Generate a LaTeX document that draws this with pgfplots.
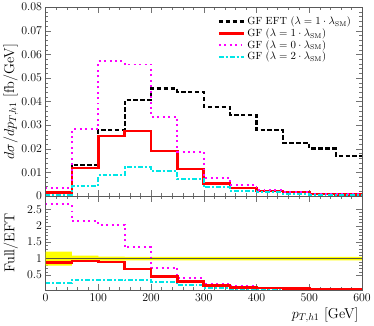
\documentclass[border=0pt]{standalone}
\usepackage{pgfplots}
\pgfplotsset{compat=1.18}
\usepgfplotslibrary{fillbetween}
\definecolor{mycyan}{RGB}{0,230,230}
\definecolor{mymag}{RGB}{255,0,255}
\definecolor{myyel}{RGB}{255,255,0}
\pgfplotsset{
  myax/.style={
    scale only axis, width=320pt,
    xmin=0, xmax=600,
    axis line style={black!65},
    tick style={black!55},
    major tick length=6pt, minor tick length=3pt,
    tick align=inside,
    xtick={0,100,...,600}, minor x tick num=4,
    tick label style={font=\fontsize{11.5}{13}\selectfont},
    label style={font=\fontsize{14.5}{16}\selectfont},
    legend image code/.code={\draw[mark repeat=2,mark phase=2] plot coordinates {(0cm,0cm) (0.45cm,0cm) (0.9cm,0cm)};},
  },
  blk/.style={black, line width=2.2pt, dash pattern=on 4.5pt off 2.5pt, const plot},
  rd/.style={red, line width=2.6pt, const plot},
  mg/.style={mymag, line width=2pt, dash pattern=on 2pt off 3.5pt, const plot},
  cy/.style={mycyan, line width=2pt, dash pattern=on 5pt off 2pt on 2pt off 2pt, const plot},
}
\begin{document}
\begin{tikzpicture}
\begin{axis}[myax, name=top, height=191pt,
  ymin=0, ymax=0.08,
  ytick={0,0.01,...,0.08}, minor y tick num=4,
  xticklabels={},
  yticklabel style={/pgf/number format/fixed, /pgf/number format/precision=2},
  scaled y ticks=false,
  ylabel={$d\sigma/dp_{T,h1}$ [fb/GeV]},
  ylabel style={at={(axis description cs:-0.11,0.5)}, anchor=center},
  legend style={draw=none, fill=none, at={(0.975,0.965)}, anchor=north east,
    font=\fontsize{10.5}{12}\selectfont, row sep=-1.5pt, inner sep=1pt},
  legend cell align=left,
]
\addplot[blk] coordinates {(0,0.0017)(50,0.0133)(100,0.028)(150,0.0407)(200,0.0455)(250,0.0441)(300,0.0378)(350,0.0343)(400,0.0279)(450,0.0225)(500,0.0201)(550,0.017)(600,0.017)};
\addlegendentry{GF EFT ($\lambda = 1\cdot\lambda_{\mathrm{SM}}$)}
\addplot[rd] coordinates {(0,0.0014)(50,0.0119)(100,0.0254)(150,0.0275)(200,0.0191)(250,0.0115)(300,0.0052)(350,0.0034)(400,0.0021)(450,0.0017)(500,0.0008)(550,0.0006)(600,0.0006)};
\addlegendentry{GF ($\lambda = 1\cdot\lambda_{\mathrm{SM}}$)}
\addplot[mg] coordinates {(0,0.0035)(50,0.0282)(100,0.057)(150,0.0557)(200,0.0335)(250,0.0188)(300,0.0077)(350,0.0045)(400,0.0024)(450,0.0018)(500,0.0008)(550,0.0007)(600,0.0007)};
\addlegendentry{GF ($\lambda = 0\cdot\lambda_{\mathrm{SM}}$)}
\addplot[cy] coordinates {(0,0.0006)(50,0.0042)(100,0.0087)(150,0.0121)(200,0.0104)(250,0.0073)(300,0.0038)(350,0.0021)(400,0.0015)(450,0.001)(500,0.0006)(550,0.0004)(600,0.0004)};
\addlegendentry{GF ($\lambda = 2\cdot\lambda_{\mathrm{SM}}$)}
\end{axis}
\begin{axis}[myax, at={(top.south west)}, anchor=north west, height=95pt,
  ymin=0.05, ymax=2.9,
  ytick={0.5,1,1.5,2,2.5}, minor y tick num=4,
  ylabel={Full/EFT},
  ylabel style={at={(axis description cs:-0.11,0.5)}, anchor=center},
  xlabel={$p_{T,h1}$ [GeV]},
  xlabel style={at={(axis description cs:1,-0.15)}, anchor=north east},
]
\addplot[name path=up, draw=none, const plot, forget plot] coordinates {(0,1.21)(50,1.09)(100,1.06)(150,1.05)(600,1.05)};
\addplot[name path=lo, draw=none, const plot, forget plot] coordinates {(0,0.79)(50,0.91)(100,0.94)(150,0.95)(600,0.95)};
\addplot[myyel, forget plot] fill between[of=up and lo];
\addplot[black!75!yellow, line width=0.9pt, forget plot] coordinates {(0,1)(600,1)};
\addplot[cy] coordinates {(0,0.25)(50,0.36)(100,0.36)(150,0.34)(200,0.29)(250,0.19)(300,0.12)(350,0.09)(400,0.08)(450,0.07)(500,0.06)(550,0.06)(600,0.06)};
\addplot[mg] coordinates {(0,2.65)(50,2.13)(100,2.02)(150,1.34)(200,0.73)(250,0.40)(300,0.24)(350,0.16)(400,0.12)(450,0.1)(500,0.08)(550,0.07)(600,0.07)};
\addplot[rd] coordinates {(0,0.89)(50,0.93)(100,0.90)(150,0.68)(200,0.45)(250,0.30)(300,0.18)(350,0.13)(400,0.11)(450,0.10)(500,0.08)(550,0.07)(600,0.07)};
\end{axis}
\end{tikzpicture}
\end{document}
